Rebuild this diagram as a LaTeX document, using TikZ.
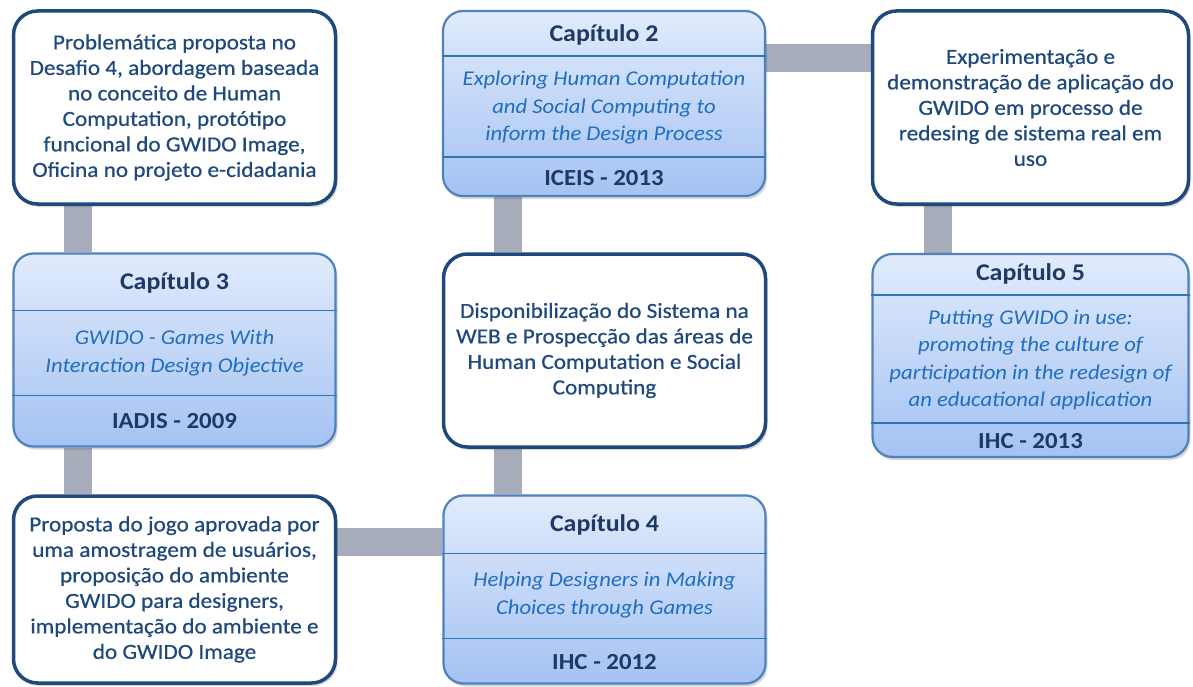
\documentclass[tikz,border=0pt]{standalone}
\usepackage{fontspec}
\setmainfont{Carlito}[FakeStretch=1.08]
\newfontfamily\notefont{Carlito}[FakeStretch=1.08,FakeBold=0.6]
\usetikzlibrary{shadows,backgrounds}

\definecolor{navy}{RGB}{31,73,125}
\definecolor{titlenavy}{RGB}{31,56,100}
\definecolor{chapborder}{RGB}{79,129,189}
\definecolor{divider}{RGB}{46,117,182}
\definecolor{italblue}{RGB}{31,110,192}
\definecolor{bargrey}{RGB}{166,172,185}
\definecolor{chaptop}{RGB}{225,235,252}
\definecolor{chapbot}{RGB}{164,194,243}

\tikzset{
  softshadow/.style={drop shadow={shadow xshift=2pt, shadow yshift=-3pt, opacity=0.22, fill=black!70}},
  notebox/.style={draw=navy, line width=3.5pt, fill=white, rounded corners=24pt,
    text=navy, align=center, inner sep=0pt, softshadow,
    font=\notefont\fontsize{21.5}{25.5}\selectfont},
  chapbox/.style={draw=chapborder, line width=2.2pt, rounded corners=20pt,
    top color=chaptop, bottom color=chapbot, inner sep=0pt, softshadow},
  chaptitle/.style={text=titlenavy, inner sep=0pt, font=\fontsize{24}{28}\selectfont\bfseries},
  chapbody/.style={text=italblue, inner sep=0pt, align=center, font=\fontsize{21}{27.5}\selectfont\itshape},
  chapvenue/.style={text=titlenavy, inner sep=0pt, font=\fontsize{23}{28}\selectfont\bfseries},
  divline/.style={draw=divider, line width=1.3pt},
  bar/.style={draw=bargrey, line width=28pt},
}

\begin{document}
\begin{tikzpicture}[x=1pt, y=-1pt]
  \useasboundingbox (0,0) rectangle (1193,687);
  \begin{pgfonlayer}{background}
    \fill[white] (0,0) rectangle (1193,687);
  \end{pgfonlayer}

  % ---- white description boxes ----
  \node[notebox, minimum width=322pt, minimum height=193pt] (a) at (174.5,107.5)
    {Problemática proposta no\\Desafio 4, abordagem baseada\\no conceito de Human\\Computation, protótipo\\funcional do GWIDO Image,\\Oficina no projeto e-cidadania};
  \node[notebox, minimum width=316pt, minimum height=193pt] (e) at (1030.5,107.5)
    {Experimentação e\\demonstração de aplicação do\\GWIDO em processo de\\redesing de sistema real em\\uso};
  \node[notebox, minimum width=322pt, minimum height=193pt] (m) at (604.5,350.5)
    {Disponibilização do Sistema na\\WEB e Prospecção das áreas de\\Human Computation e Social\\Computing};
  \node[notebox, minimum width=322pt, minimum height=187pt] (f) at (174.5,589.5)
    {Proposta do jogo aprovada por\\uma amostragem de usuários,\\proposição do ambiente\\GWIDO para designers,\\implementação do ambiente e\\do GWIDO Image};

  % ---- chapter boxes ----
  % Capítulo 2
  \node[chapbox, minimum width=322pt, minimum height=185pt] (c2) at (604,103.5) {};
  \draw[divline] ([yshift=-46pt]c2.north west) -- ([yshift=-46pt]c2.north east);
  \draw[divline] ([yshift=-147pt]c2.north west) -- ([yshift=-147pt]c2.north east);
  \node[chaptitle] (c2t) at (604,35) {Capítulo 2};
  \node[chapbody] (c2b) at (604,108) {Exploring Human Computation\\and Social Computing to\\inform the Design Process};
  \node[chapvenue] (c2v) at (604,178) {ICEIS - 2013};

  % Capítulo 3
  \node[chapbox, minimum width=322pt, minimum height=193pt] (c3) at (174.5,350) {};
  \draw[divline] ([yshift=-58pt]c3.north west) -- ([yshift=-58pt]c3.north east);
  \draw[divline] ([yshift=-143pt]c3.north west) -- ([yshift=-143pt]c3.north east);
  \node[chaptitle] (c3t) at (174.5,283) {Capítulo 3};
  \node[chapbody] (c3b) at (174.5,353) {GWIDO - Games With\\Interaction Design Objective};
  \node[chapvenue] (c3v) at (174.5,421) {IADIS - 2009};

  % Capítulo 5
  \node[chapbox, minimum width=316pt, minimum height=203pt] (c5) at (1030.5,355.5) {};
  \draw[divline] ([yshift=-42pt]c5.north west) -- ([yshift=-42pt]c5.north east);
  \draw[divline] ([yshift=-170pt]c5.north west) -- ([yshift=-170pt]c5.north east);
  \node[chaptitle] (c5t) at (1030.5,274) {Capítulo 5};
  \node[chapbody] (c5b) at (1030.5,360) {Putting GWIDO in use:\\promoting the culture of\\participation in the redesign of\\an educational application};
  \node[chapvenue] (c5v) at (1030.5,441) {IHC - 2013};

  % Capítulo 4
  \node[chapbox, minimum width=322pt, minimum height=188pt] (c4) at (604.5,589.5) {};
  \draw[divline] ([yshift=-59pt]c4.north west) -- ([yshift=-59pt]c4.north east);
  \draw[divline] ([yshift=-144pt]c4.north west) -- ([yshift=-144pt]c4.north east);
  \node[chaptitle] (c4t) at (604.5,525) {Capítulo 4};
  \node[chapbody] (c4b) at (604.5,595) {Helping Designers in Making\\Choices through Games};
  \node[chapvenue] (c4v) at (604.5,662) {IHC - 2012};

  % ---- grey connecting bars ----
  \coordinate (v1) at ([xshift=-96.5pt]a.south);
  \coordinate (v2) at ([xshift=-96.5pt]c3.south);
  \coordinate (h1) at ([yshift=47.5pt]f.east);
  \coordinate (v3) at ([xshift=-96.5pt]c4.north);
  \coordinate (v4) at ([xshift=-96.5pt]m.north);
  \coordinate (h2) at ([yshift=45.5pt]c2.east);
  \coordinate (v5) at ([xshift=-92.5pt]e.south);
  \begin{pgfonlayer}{background}
    \draw[bar] (v1) -- (v1 |- c3.north);
    \draw[bar] (v2) -- (v2 |- f.north);
    \draw[bar] (h1) -- (h1 -| c4.west);
    \draw[bar] (v3) -- (v3 |- m.south);
    \draw[bar] (v4) -- (v4 |- c2.south);
    \draw[bar] (h2) -- (h2 -| e.west);
    \draw[bar] (v5) -- (v5 |- c5.north);
  \end{pgfonlayer}
\end{tikzpicture}
\end{document}
